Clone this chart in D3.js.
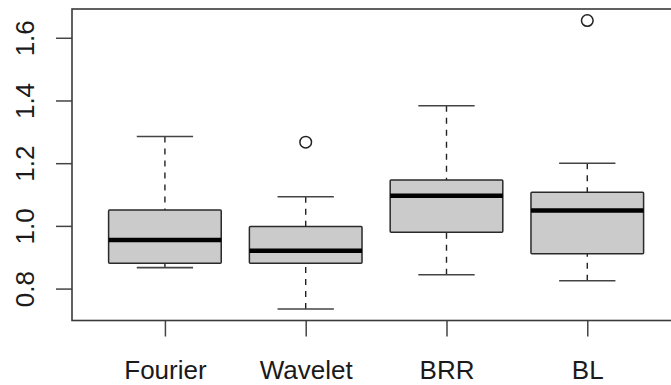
<!DOCTYPE html>
<html>
<head>
<meta charset="utf-8">
<script src="https://cdn.jsdelivr.net/npm/d3@7"></script>
<style>
  body { margin: 0; background: #fff; }
  svg { display: block; font-family: "Liberation Sans", Arial, sans-serif; }
</style>
</head>
<body>
<svg id="chart" width="671" height="385"></svg>
<script>
// five-number summaries
const methods = ["Fourier", "Wavelet", "BRR", "BL"];
const lowerWhisker = [0.867, 0.735, 0.844, 0.825];
const q1 = [0.881, 0.881, 0.980, 0.911];
const median = [0.955, 0.921, 1.096, 1.049];
const q3 = [1.051, 0.998, 1.146, 1.107];
const upperWhisker = [1.285, 1.093, 1.383, 1.200];
const outliers = [[], [1.267], [], [1.655]];
const yTicks = [0.8, 1.0, 1.2, 1.4, 1.6];

const svg = d3.select("#chart");
const plotLeft = 72, plotTop = 9, plotBottom = 320.5, plotRight = 680.2;

// R style: 4% padding on both axes
const allVals = d3.merge([lowerWhisker, upperWhisker, ...outliers]);
const [lo, hi] = d3.extent(allVals);
const pad = (hi - lo) * 0.04;
const y = d3.scaleLinear().domain([lo - pad, hi + pad]).range([plotBottom, plotTop]);
const x = d3.scaleLinear().domain([0.5 - 0.16, methods.length + 0.5 + 0.16]).range([plotLeft, plotRight]);

const boxes = methods.map((m, i) => ({
  name: m, pos: i + 1,
  lw: lowerWhisker[i], q1: q1[i], med: median[i], q3: q3[i], uw: upperWhisker[i],
  out: outliers[i]
}));

const unit = x(2) - x(1);
const g = svg.append("g");

const box = g.selectAll("g.box").data(boxes).enter().append("g").attr("class", "box");

// dashed whiskers, drawn from whisker end to box
box.append("line")
  .attr("x1", d => x(d.pos)).attr("x2", d => x(d.pos))
  .attr("y1", d => y(d.lw)).attr("y2", d => y(d.q1))
  .attr("stroke", "#222").attr("stroke-width", 1.4).attr("stroke-dasharray", "6,6");
box.append("line")
  .attr("x1", d => x(d.pos)).attr("x2", d => x(d.pos))
  .attr("y1", d => y(d.uw)).attr("y2", d => y(d.q3))
  .attr("stroke", "#222").attr("stroke-width", 1.4).attr("stroke-dasharray", "6,6");

// caps
["lw", "uw"].forEach(k => {
  box.append("line")
    .attr("x1", d => x(d.pos - 0.2)).attr("x2", d => x(d.pos + 0.2))
    .attr("y1", d => y(d[k])).attr("y2", d => y(d[k]))
    .attr("stroke", "#444").attr("stroke-width", 1.6);
});

box.append("rect")
  .attr("x", d => x(d.pos - 0.4))
  .attr("width", unit * 0.8)
  .attr("y", d => y(d.q3))
  .attr("height", d => y(d.q1) - y(d.q3))
  .attr("fill", "#cbcbcb")
  .attr("stroke", "#2a2a2a")
  .attr("stroke-width", 1.5)
  .attr("rx", 1);

box.append("line")
  .attr("x1", d => x(d.pos - 0.4)).attr("x2", d => x(d.pos + 0.4))
  .attr("y1", d => y(d.med)).attr("y2", d => y(d.med))
  .attr("stroke", "#000").attr("stroke-width", 4.5);

box.selectAll("circle").data(d => d.out.map(v => ({ pos: d.pos, v })))
  .enter().append("circle")
  .attr("cx", d => x(d.pos)).attr("cy", d => y(d.v))
  .attr("r", 5.8)
  .attr("fill", "none").attr("stroke", "#222").attr("stroke-width", 1.5);

// y axis
const yAxis = svg.append("g")
  .attr("transform", `translate(${plotLeft},0)`)
  .call(d3.axisLeft(y).tickValues(yTicks).tickSize(16).tickFormat(d3.format(".1f")));
yAxis.select(".domain").remove();
yAxis.selectAll(".tick line").attr("stroke", "#444").attr("stroke-width", 1.5);
yAxis.selectAll(".tick text")
  .attr("transform", "rotate(-90)")
  .attr("x", 0).attr("y", -38).attr("dy", 0)
  .attr("text-anchor", "middle")
  .attr("fill", "#1a1a1a")
  .style("font-size", "26px");

// x axis
const xAxis = svg.append("g")
  .attr("transform", `translate(0,${plotBottom})`)
  .call(d3.axisBottom(x).tickValues(d3.range(1, methods.length + 1)).tickSize(16)
    .tickFormat(d => methods[d - 1]));
xAxis.select(".domain").remove();
xAxis.selectAll(".tick line").attr("stroke", "#444").attr("stroke-width", 1.5);
xAxis.selectAll(".tick text")
  .attr("y", 58.5).attr("dy", 0)
  .attr("fill", "#1a1a1a")
  .style("font-size", "26px");

// frame
svg.append("rect")
  .attr("x", plotLeft).attr("y", plotTop)
  .attr("width", plotRight - plotLeft).attr("height", plotBottom - plotTop)
  .attr("fill", "none").attr("stroke", "#3a3a3a").attr("stroke-width", 1.6);
</script>
</body>
</html>
